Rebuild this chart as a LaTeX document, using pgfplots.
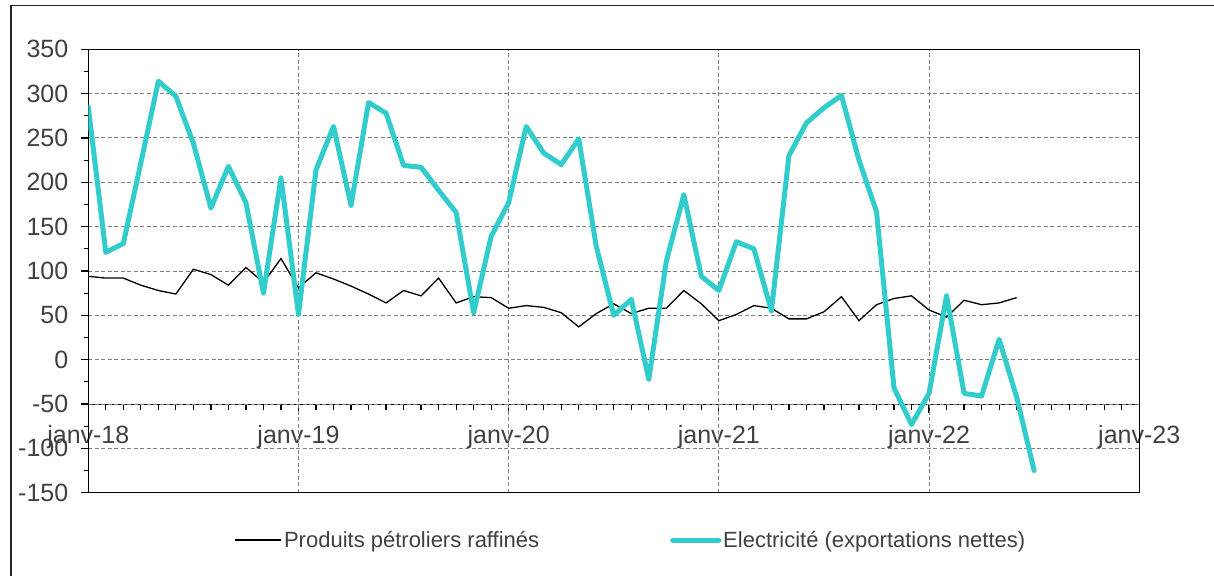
\documentclass[border=0pt]{standalone}
\usepackage{fontspec}
\setmainfont{Liberation Sans}
\usepackage{pgfplots}
\pgfplotsset{compat=1.18}
\definecolor{cyanline}{RGB}{51,204,204}
\definecolor{txt}{RGB}{64,64,64}
\definecolor{gridc}{RGB}{128,128,128}
\pgfplotstableread{
m v
0 285
1 121
2 131
3 222
4 314
5 297
6 244
7 171
8 218
9 177
10 75
11 205
12 51
13 214
14 263
15 174
16 290
17 278
18 219
19 217
20 191
21 166
22 53
23 139
24 177
25 263
26 233
27 220
28 249
29 128
30 50
31 68
32 -22
33 111
34 186
35 94
36 78
37 133
38 125
39 55
40 230
41 267
42 284
43 298
44 225
45 167
46 -32
47 -73
48 -38
49 72
50 -38
51 -41
52 23
53 -42
54 -125
}\elec
\pgfplotstableread{
m v
0 94
1 92
2 92
3 84
4 78
5 74
6 102
7 96
8 84
9 104
10 87
11 114
12 81
13 98
14 91
15 83
16 74
17 64
18 78
19 72
20 92
21 64
22 71
23 70
24 58
25 61
26 59
27 53
28 37
29 52
30 63
31 52
32 58
33 58
34 78
35 63
36 44
37 51
38 61
39 58
40 46
41 46
42 54
43 71
44 44
45 62
46 69
47 72
48 56
49 48
50 67
51 62
52 64
53 70
}\petro
\begin{document}
\begin{tikzpicture}
\useasboundingbox (0,0) rectangle (1214bp,-576bp);
\draw[line width=1.2bp, black!85] (11bp,-5.7bp) rectangle (1260bp,-620bp);
% x axis line at -50
\begin{axis}[
  at={(88.3bp,-404.3bp)}, anchor=south west,
  scale only axis, width=1051bp, height=50bp,
  xmin=0, xmax=60, ymin=0, ymax=1,
  axis x line*=bottom, axis y line=none,
  axis line style={line width=1.2bp, black},
  xtick={0,12,24,36,48,60},
  xticklabels={janv-18,janv-19,janv-20,janv-21,janv-22,janv-23},
  minor xtick={0,1,...,60},
  tick align=outside, major tick length=9bp, minor tick length=6bp,
  tick style={line width=1.2bp, black},
  xticklabel style={font=\fontsize{25bp}{30bp}\selectfont, text=txt, yshift=-9bp},
]
\end{axis}
\begin{axis}[
  at={(88.3bp,-492.7bp)}, anchor=south west,
  scale only axis, width=1051bp, height=443.4bp,
  xmin=0, xmax=60, ymin=-150, ymax=350,
  xtick={0,12,24,36,48,60}, xticklabels={},
  x tick style={draw=none},
  ytick={-150,-100,...,350}, minor y tick num=1, ytick pos=left,
  xmajorgrids, ymajorgrids,
  grid style={gridc, line width=1bp, dash pattern=on 4bp off 2.5bp},
  axis line style={line width=1.2bp, black},
  tick align=outside, major tick length=7.5bp, minor tick length=4bp,
  y tick style={line width=1.2bp, black},
  /pgf/number format/assume math mode=true,
  yticklabel style={font=\fontsize{25bp}{30bp}\selectfont, text=txt, xshift=-9bp},
  legend columns=2,
  legend image code/.code={\draw[#1] (0bp,0bp) -- (46bp,0bp);},
  legend style={draw=none, fill=none, at={(0.5164,-0.1067)}, anchor=center,
    font=\fontsize{22bp}{26bp}\selectfont, text=txt,
    nodes={inner sep=2bp},
    /tikz/every even column/.append style={column sep=129bp}},
]
\addplot[black, line width=1.3bp] table[x=m, y=v] {\petro};
\addlegendentry{Produits pétroliers raffinés}
\addplot[cyanline, line width=5bp, line join=round, line cap=round] table[x=m, y=v] {\elec};
\addlegendentry{Electricité (exportations nettes)}
\end{axis}
\end{tikzpicture}
\end{document}
